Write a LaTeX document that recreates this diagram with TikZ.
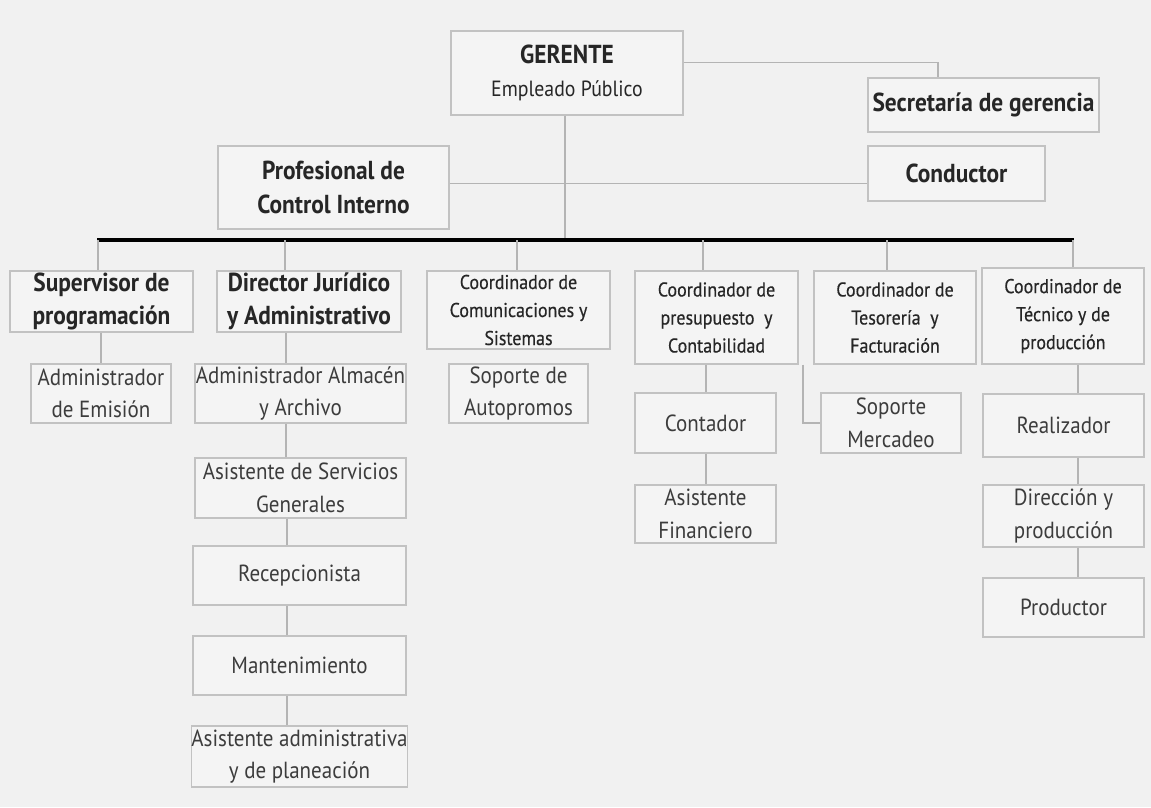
\documentclass[tikz,border=0pt]{standalone}
\usepackage{fontspec}
\setmainfont{PT Sans}[FakeStretch=0.9]
\usepackage{tikz}

\definecolor{bgcol}{HTML}{F1F1F1}
\definecolor{boxfill}{HTML}{F4F4F4}
\definecolor{boxline}{HTML}{C2C2C2}
\definecolor{linkgray}{HTML}{B4B4B4}
\definecolor{txt}{HTML}{262626}

\tikzset{
  box/.style={draw=boxline, line width=1pt, fill=boxfill, inner sep=0pt, align=center, text=txt},
  dim/.style 2 args={minimum width=#1*0.75pt, minimum height=#2*0.75pt},
  head/.style={font=\fontsize{19.5}{25}\selectfont\bfseries},
  coord/.style={font=\fontsize{15}{21}\selectfont\addfontfeatures{FakeBold=0.4}},
  sub/.style={font=\fontsize{17.5}{24.5}\selectfont, text=txt!90},
  link/.style={draw=linkgray, line width=1pt},
  bar/.style={draw=black, line width=3pt}
}

\begin{document}
\begin{tikzpicture}[x=0.75pt, y=-0.75pt]
    % Background
    \fill[bgcol] (0,0) rectangle (1151,807);
    \useasboundingbox (0,0) rectangle (1151,807);

    % Top level
    \node[box, head, dim={232}{84}] (ger) at (567,73)
      {GERENTE\\{\mdseries\fontsize{16.5}{22}\selectfont Empleado Público}};
    \node[box, head, dim={231}{54}] (sec) at (983.5,105) {Secretaría de gerencia};
    \node[box, head, dim={231}{83}] (prof) at (333.5,187.5) {Profesional de\\Control Interno};
    \node[box, head, dim={177}{55}] (cond) at (956.5,173.5) {Conductor};

    % Second level
    \node[box, head, dim={183}{61}] (sup) at (101.5,301.5) {Supervisor de\\programación};
    \node[box, head, dim={184}{61}] (dir) at (309,301.5) {Director Jurídico\\y Administrativo};
    \node[box, coord, dim={183}{78}] (com) at (518.5,310) {Coordinador de\\Comunicaciones y\\Sistemas};
    \node[box, coord, dim={163}{93}] (pre) at (716.5,317.5) {Coordinador de\\presupuesto~ y\\Contabilidad};
    \node[box, coord, dim={162}{93}] (tes) at (895,317.5) {Coordinador de\\Tesorería~ y\\Facturación};
    \node[box, coord, dim={162}{96}] (tec) at (1063,316) {Coordinador de\\Técnico y de\\producción};

    % Third level
    \node[box, sub, dim={140}{59}] (emi) at (101,393.5) {Administrador\\de Emisión};
    \node[box, sub, dim={211}{59}] (alm) at (300.5,393.5) {Administrador Almacén\\y Archivo};
    \node[box, sub, dim={211}{60}] (asg) at (300.5,488) {Asistente de Servicios\\Generales};
    \node[box, sub, dim={213}{59}] (rec) at (299.5,575.5) {Recepcionista};
    \node[box, sub, dim={213}{59}] (man) at (299.5,665.5) {Mantenimiento};
    \node[box, sub, dim={213}{61}] (asa) at (299.5,756.5) {Asistente administrativa\\y de planeación};
    \node[box, sub, dim={139}{59}] (aut) at (518.5,393.5) {Soporte de\\Autopromos};
    \node[box, sub, dim={141}{60}] (con) at (705.5,423) {Contador};
    \node[box, sub, dim={141}{58}] (fin) at (705.5,514) {Asistente\\Financiero};
    \node[box, sub, dim={140}{60}] (mer) at (891,423) {Soporte\\Mercadeo};
    \node[box, sub, dim={161}{63}] (rea) at (1063.5,425.5) {Realizador};
    \node[box, sub, dim={161}{62}] (dyp) at (1063.5,516) {Dirección y\\producción};
    \node[box, sub, dim={161}{59}] (pro) at (1063.5,607.5) {Productor};

    % Main bar
    \coordinate (barL) at (97,240);
    \coordinate (barR) at (1074,240);

    % Links of the top level
    \draw[link] ([yshift=8pt]ger.east) -| (sec.north -| 938,0);
    \draw[link] ([yshift=3pt]prof.east) -- ([yshift=3pt]prof.east -| cond.west);
    \draw[link] (ger.south -| 565,0) -- (barL -| 565,0);
    \draw[bar] (barL) -- (barR);

    % Drops from the bar
    \foreach \n/\x in {sup/98, dir/285, com/517, pre/703, tes/887, tec/1073} {
      \draw[link] (barL -| \x,0) -- (\n.north -| \x,0);
    }

    % Columns below
    \foreach \a/\b/\x in {sup/emi/101, dir/alm/286, alm/asg/286, asg/rec/287, rec/man/287,
                          man/asa/287, pre/con/706, con/fin/706, tec/rea/1078, rea/dyp/1078,
                          dyp/pro/1078} {
      \draw[link] (\a.south -| \x,0) -- (\b.north -| \x,0);
    }
    \draw[link] (pre.south -| 803,0) |- (mer.west);

  \end{tikzpicture}
\end{document}
